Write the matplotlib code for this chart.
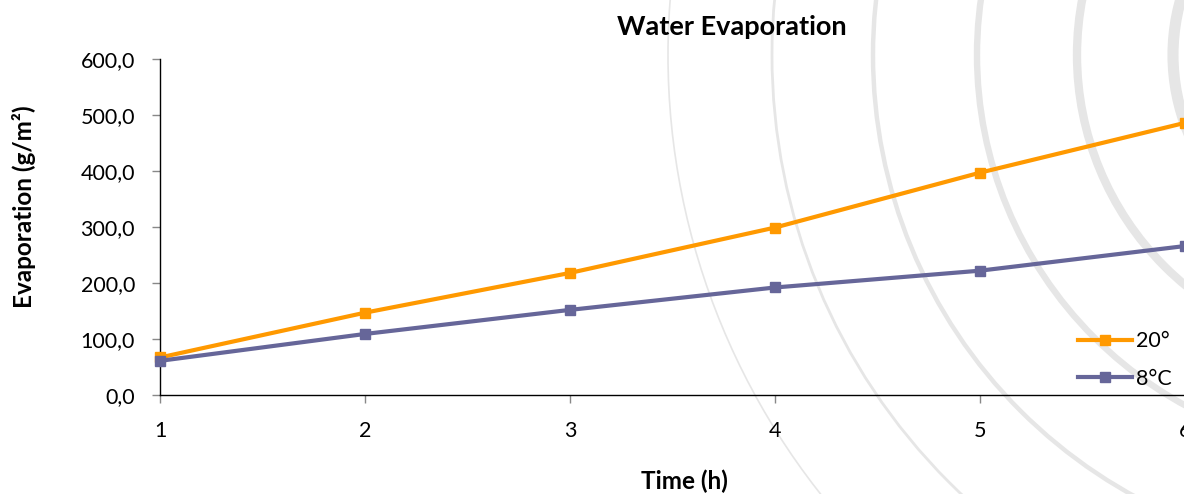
import matplotlib
matplotlib.use("Agg")
import matplotlib.pyplot as plt
from matplotlib.patches import Circle
from matplotlib.ticker import FuncFormatter

# data
hours = [1, 2, 3, 4, 5, 6]
evap_20 = [67, 147, 218, 299, 397, 486]
evap_8 = [61, 109, 152, 192, 222, 266]
series_labels = ["20°", "8°C"]
y_ticks = [0, 100, 200, 300, 400, 500, 600]

ORANGE = "#FF9900"
PURPLE = "#666699"

plt.rcParams["font.family"] = ["Lato", "DejaVu Sans"]

W, H = 1184, 494
fig = plt.figure(figsize=(W / 100, H / 100), dpi=100)

# decorative background arcs, drawn in pixel coordinates
bg = fig.add_axes([0, 0, 1, 1], zorder=0)
bg.set_xlim(0, W)
bg.set_ylim(H, 0)
bg.axis("off")
arc_radii = [708, 604, 503, 399, 299, 203]
arc_widths = [1.2, 2.0, 3.2, 4.6, 6.0, 8.0]
for r, lw in zip(arc_radii, arc_widths):
    bg.add_patch(Circle((1376, 55), r, fill=False, ec="#e6e6e6", lw=lw))

ax = fig.add_axes([160 / W, 99 / H, (1185 - 160) / W, 336 / H], zorder=1)
ax.patch.set_alpha(0)

ax.plot(hours, evap_20, color=ORANGE, lw=3.0, marker="s", ms=6.5,
        label=series_labels[0], clip_on=False, zorder=3)
ax.plot(hours, evap_8, color=PURPLE, lw=3.0, marker="s", ms=6.5,
        label=series_labels[1], clip_on=False, zorder=3)

ax.set_xlim(1, 6)
ax.set_ylim(0, 600)
ax.set_xticks(hours)
ax.set_yticks(y_ticks)
ax.yaxis.set_major_formatter(FuncFormatter(lambda v, p: f"{v:.1f}".replace(".", ",")))

for s in ["top", "right"]:
    ax.spines[s].set_visible(False)
for s in ["left", "bottom"]:
    ax.spines[s].set_color("black")
    ax.spines[s].set_linewidth(1.0)

ax.tick_params(axis="both", direction="out", length=6, width=1, color="#888888",
               labelsize=15.5, labelcolor="black")
ax.tick_params(axis="y", pad=12)
ax.tick_params(axis="x", pad=13)

fig.text(732 / W, 1 - 35 / H, "Water Evaporation", ha="center", va="baseline",
         fontsize=19.5, fontweight="bold")
fig.text(24 / W, 1 - 207 / H, "Evaporation (g/m²)", ha="center", va="center",
         rotation=90, fontsize=17.5, fontweight="bold")
fig.text(684 / W, 1 - 481 / H, "Time (h)", ha="center", va="center",
         fontsize=17.5, fontweight="bold")

fig.legend(loc="center left", bbox_to_anchor=(1078 / W, 1 - 360 / H),
           frameon=False, fontsize=15.5, handlelength=2.5, handletextpad=0.2,
           labelspacing=0.8, borderpad=0, borderaxespad=0)

fig.savefig("out.png", dpi=100)
